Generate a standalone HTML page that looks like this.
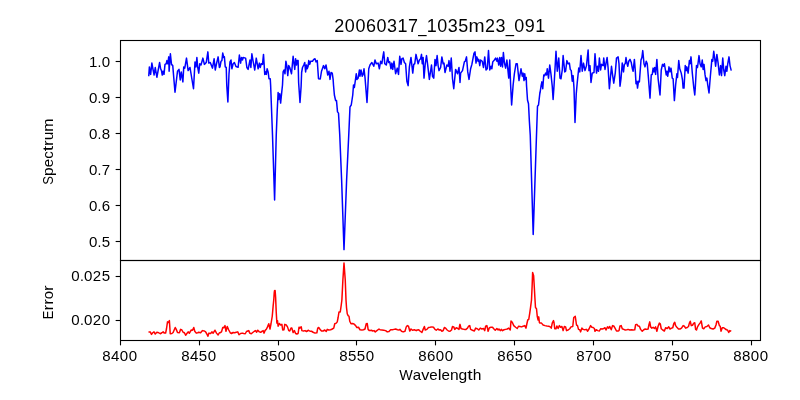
<!DOCTYPE html>
<html><head><meta charset="utf-8"><title>20060317_1035m23_091</title>
<style>
html,body{margin:0;padding:0;background:#fff;}
body{width:800px;height:400px;overflow:hidden;}
svg{display:block;}
text{font-family:"Liberation Sans",sans-serif;fill:#000;}
</style></head><body>
<svg width="800" height="400" viewBox="0 0 800 400">
<rect x="0" y="0" width="800" height="400" fill="#ffffff"/>
<defs><clipPath id="ct"><rect x="120" y="40" width="640" height="220"/></clipPath><clipPath id="cb"><rect x="120" y="260" width="640" height="80"/></clipPath></defs>
<path clip-path="url(#ct)" d="M148.75 76.25 L149.38 66.88 L150.62 74.38 L151.88 63.12 L153.12 70.00 L154.12 75.00 L155.25 67.50 L156.88 77.25 L159.62 62.50 L160.62 68.75 L161.50 70.62 L162.25 75.00 L163.12 71.25 L164.00 74.38 L165.00 64.38 L166.25 63.75 L166.88 60.62 L167.75 63.75 L168.75 56.88 L169.12 71.25 L170.38 53.75 L171.50 64.38 L172.75 65.62 L173.75 77.50 L175.00 92.25 L177.50 71.25 L179.00 69.38 L180.25 80.00 L181.25 71.88 L182.88 81.88 L183.75 66.88 L184.75 68.12 L186.50 58.12 L188.12 70.62 L190.00 67.50 L193.50 88.75 L195.00 61.88 L196.00 66.88 L196.88 57.50 L197.75 67.50 L198.75 73.12 L199.75 63.75 L201.00 65.00 L202.88 58.12 L204.38 64.38 L206.25 62.50 L207.88 51.88 L208.75 63.12 L210.25 62.50 L212.50 68.12 L214.12 58.75 L215.25 70.00 L216.50 63.75 L218.12 56.88 L219.38 67.50 L220.00 66.88 L221.00 61.25 L221.88 60.62 L222.75 53.12 L223.75 57.50 L224.38 56.88 L225.25 66.88 L226.25 67.50 L226.75 85.00 L227.88 101.88 L229.00 73.75 L230.00 61.88 L231.00 60.00 L231.88 68.75 L233.12 63.75 L234.38 62.50 L236.00 66.50 L238.12 67.25 L239.38 55.00 L240.62 63.12 L241.50 57.50 L242.50 60.00 L243.12 57.50 L245.62 58.12 L246.88 67.50 L248.12 69.38 L248.75 66.25 L250.00 60.00 L250.88 67.50 L251.88 53.75 L253.12 61.25 L254.75 70.00 L256.25 58.12 L258.12 68.75 L259.38 63.12 L260.25 67.50 L261.25 63.75 L262.50 64.38 L263.50 54.38 L264.75 74.38 L265.62 71.88 L266.25 74.38 L267.12 68.75 L268.12 71.88 L269.00 78.75 L270.25 78.75 L270.62 85.00 L272.50 135.00 L274.60 200.00 L276.25 135.00 L277.25 110.00 L278.12 92.50 L278.75 99.38 L279.75 93.75 L280.62 103.12 L281.50 94.38 L282.50 85.00 L283.12 71.88 L284.00 70.00 L285.00 73.75 L285.88 61.25 L286.88 66.25 L287.75 75.62 L288.75 65.62 L289.75 67.50 L291.50 73.75 L293.12 56.25 L294.75 69.38 L295.62 58.75 L296.50 65.00 L297.25 60.62 L298.12 60.62 L298.62 82.50 L300.00 102.50 L300.00 102.50 L301.12 86.25 L301.62 72.50 L302.50 67.50 L303.75 65.00 L304.75 62.50 L305.62 71.88 L306.50 65.00 L307.25 68.75 L308.12 66.25 L308.75 60.62 L309.75 64.38 L310.62 61.25 L312.50 61.25 L313.75 59.38 L315.00 58.75 L316.00 61.88 L317.25 60.62 L318.50 78.75 L320.25 79.00 L321.50 71.25 L323.50 65.62 L324.75 68.75 L326.00 65.00 L327.75 75.00 L329.00 71.25 L330.00 79.38 L331.00 72.50 L332.25 73.12 L333.12 79.38 L333.50 85.00 L334.38 95.00 L335.62 100.62 L336.50 100.62 L337.50 111.88 L338.50 113.12 L339.75 135.00 L341.62 180.00 L344.00 249.62 L346.62 180.00 L348.75 135.00 L350.00 106.88 L351.25 105.00 L352.75 95.00 L353.50 85.00 L354.38 87.50 L356.25 73.75 L356.88 79.38 L358.12 78.12 L359.38 70.00 L360.00 76.25 L361.00 70.00 L362.25 76.25 L363.12 74.38 L364.00 68.75 L365.00 77.50 L366.00 90.00 L367.00 102.50 L367.88 86.25 L368.75 68.75 L370.00 65.00 L371.88 62.50 L373.75 66.25 L375.00 60.00 L376.25 63.75 L378.12 63.12 L379.38 68.75 L380.62 61.25 L381.88 63.75 L382.75 57.50 L383.75 51.88 L384.75 63.75 L386.25 65.00 L387.75 57.50 L388.75 62.50 L389.75 61.88 L391.00 68.75 L391.88 63.12 L392.75 69.38 L394.00 61.25 L395.62 73.75 L397.25 68.12 L398.50 74.38 L399.75 56.25 L401.00 64.38 L401.88 58.75 L403.12 58.12 L404.38 62.50 L405.62 63.75 L406.88 81.25 L408.12 85.62 L409.38 66.88 L411.00 57.50 L412.75 73.12 L413.75 64.38 L414.75 63.75 L416.00 54.38 L418.12 63.75 L419.38 60.00 L420.62 58.75 L421.50 54.38 L422.25 63.75 L423.12 57.50 L424.00 78.12 L425.25 63.75 L426.50 55.62 L427.75 65.62 L429.38 79.38 L431.50 65.00 L432.50 76.25 L433.75 78.12 L435.00 59.38 L436.00 65.62 L437.12 55.62 L438.12 65.62 L439.00 70.62 L440.62 67.50 L441.88 56.88 L443.12 63.75 L444.00 63.12 L445.00 72.50 L446.88 65.00 L448.12 66.25 L449.00 60.62 L450.00 71.25 L451.25 58.12 L452.50 78.75 L453.75 88.75 L455.62 69.38 L457.50 73.75 L459.00 67.50 L460.00 81.88 L460.00 82.50 L460.62 73.12 L462.50 70.62 L464.38 61.88 L465.25 61.25 L466.50 56.88 L467.75 71.88 L469.00 79.38 L470.62 68.75 L471.88 64.38 L474.00 53.12 L475.00 51.88 L476.00 63.12 L476.88 56.88 L478.12 61.25 L478.75 59.38 L479.75 65.62 L480.62 60.00 L482.25 61.25 L483.50 67.50 L484.75 56.88 L486.00 70.00 L487.25 68.75 L488.50 50.62 L489.75 70.00 L491.00 66.25 L491.88 68.75 L492.75 61.88 L494.38 60.00 L495.62 58.12 L496.88 61.25 L497.50 58.12 L498.75 65.00 L499.75 57.50 L500.62 66.25 L501.50 57.50 L502.50 66.88 L503.38 52.50 L504.38 62.50 L505.62 68.12 L506.88 60.00 L508.75 78.12 L509.75 60.00 L510.62 85.00 L511.62 105.00 L513.12 85.00 L514.38 73.75 L516.00 63.75 L517.25 63.75 L519.00 80.62 L521.00 68.75 L522.25 76.25 L523.12 73.12 L524.00 80.62 L524.75 73.75 L525.38 79.38 L526.25 77.50 L526.50 85.00 L527.50 100.00 L528.50 103.75 L529.38 121.25 L530.25 135.00 L533.20 234.50 L536.50 135.00 L537.50 106.25 L538.50 105.00 L540.00 91.88 L540.00 93.12 L541.00 86.25 L541.88 81.88 L542.75 88.75 L543.75 75.00 L544.75 75.62 L545.62 73.12 L546.50 75.00 L547.25 68.75 L548.50 78.12 L549.75 65.00 L551.00 74.38 L552.25 86.25 L553.12 99.38 L554.00 86.25 L556.00 51.25 L557.25 71.25 L558.75 58.12 L560.00 78.12 L561.00 78.75 L562.25 70.00 L563.12 55.62 L564.75 71.88 L565.62 71.25 L566.88 60.62 L568.12 63.75 L569.38 63.12 L570.25 69.38 L571.25 70.62 L572.25 81.25 L573.12 75.62 L574.00 88.12 L575.00 122.50 L576.25 93.75 L577.25 82.50 L578.75 68.12 L579.75 71.88 L581.00 55.62 L582.25 71.25 L583.50 63.12 L585.00 70.62 L586.50 65.62 L588.12 50.00 L589.00 70.62 L590.00 65.62 L591.00 82.50 L592.25 73.12 L594.00 72.50 L595.00 53.75 L596.50 73.12 L597.50 66.25 L598.50 71.25 L599.38 58.12 L600.62 70.00 L601.50 64.38 L603.12 65.62 L603.75 58.12 L605.00 69.38 L606.25 61.88 L607.12 57.50 L608.12 68.12 L609.38 88.75 L611.50 66.25 L612.50 74.38 L613.75 83.12 L615.25 73.12 L616.50 58.12 L618.12 56.88 L619.00 63.75 L620.00 86.25 L621.00 78.75 L622.25 63.12 L623.50 71.88 L624.38 64.38 L625.25 63.75 L626.00 57.50 L626.88 63.12 L627.75 66.25 L628.75 61.25 L630.00 59.38 L631.25 62.50 L632.50 69.38 L633.12 71.25 L634.38 59.38 L635.25 70.00 L636.00 83.75 L636.88 81.25 L637.50 88.12 L638.50 81.25 L639.38 81.88 L641.00 60.00 L641.88 57.50 L642.75 50.62 L644.00 63.75 L645.00 66.88 L646.25 61.25 L647.25 63.75 L648.50 78.75 L650.00 98.12 L651.25 75.00 L652.25 74.38 L653.12 68.12 L654.00 71.88 L654.75 67.50 L655.62 74.38 L656.88 59.38 L658.12 78.75 L660.00 95.00 L661.25 70.00 L662.50 64.38 L663.50 66.25 L664.38 63.75 L666.25 75.00 L666.88 71.25 L667.75 76.25 L669.00 66.88 L670.00 71.88 L671.00 68.12 L672.25 78.12 L673.12 78.75 L674.38 100.62 L675.62 85.00 L676.88 73.75 L677.50 77.50 L678.75 60.62 L679.75 68.75 L681.25 73.12 L682.50 80.00 L683.12 88.12 L684.00 88.12 L685.25 65.62 L686.25 70.62 L686.88 66.88 L688.12 73.12 L689.38 60.62 L690.00 63.75 L691.00 56.88 L692.25 72.50 L693.75 87.50 L694.75 95.00 L695.25 88.12 L696.50 65.62 L697.50 67.50 L699.00 55.62 L700.00 63.75 L701.25 66.88 L702.25 60.00 L703.12 69.38 L704.00 64.38 L705.00 74.38 L706.00 80.62 L706.88 78.12 L707.75 85.00 L709.00 93.00 L710.25 77.50 L711.88 59.38 L712.75 61.25 L713.75 51.25 L714.75 58.75 L715.62 66.25 L716.88 54.38 L718.12 63.12 L719.38 75.00 L720.62 65.62 L721.50 75.62 L722.75 58.12 L723.75 70.00 L724.75 75.62 L726.00 66.25 L726.88 71.25 L727.75 63.75 L729.00 56.88 L730.00 65.62 L731.25 70.62" fill="none" stroke="#0000ff" stroke-width="1.50" stroke-linejoin="round" stroke-linecap="butt"/>
<path clip-path="url(#cb)" d="M148.50 331.88 L150.25 331.88 L151.50 334.38 L152.75 332.75 L154.00 331.88 L155.25 334.00 L156.88 332.25 L158.75 332.75 L160.25 333.75 L161.88 332.75 L163.12 331.88 L164.38 333.12 L165.62 333.12 L166.50 328.75 L167.50 321.88 L168.50 322.50 L169.38 320.62 L170.25 333.75 L171.88 333.50 L173.12 332.50 L175.25 327.50 L176.25 329.38 L177.50 332.50 L179.38 332.75 L180.62 329.38 L181.88 330.00 L183.12 332.25 L184.38 332.75 L185.62 335.25 L186.88 333.50 L188.12 331.88 L189.38 333.12 L191.25 330.00 L192.50 330.25 L193.75 327.50 L194.75 331.25 L196.25 333.12 L197.75 332.75 L198.75 332.25 L200.62 332.75 L202.50 330.62 L204.38 331.00 L205.62 331.88 L206.88 334.00 L207.88 336.25 L209.00 333.12 L210.62 333.50 L211.88 331.88 L213.12 333.12 L215.00 330.25 L216.50 333.12 L218.12 335.00 L219.38 332.75 L220.00 332.75 L221.50 331.88 L222.75 327.50 L223.75 327.75 L225.00 325.62 L226.00 331.25 L227.25 326.50 L228.75 330.00 L230.25 332.75 L231.50 333.50 L233.12 332.50 L234.75 332.75 L236.25 332.25 L237.75 331.88 L239.00 334.75 L240.62 333.50 L242.25 333.12 L243.75 333.50 L245.25 333.75 L246.50 331.50 L247.75 331.00 L248.75 330.62 L249.75 333.12 L251.25 333.75 L252.75 332.50 L254.38 331.25 L255.62 330.62 L256.50 332.25 L257.75 330.25 L259.38 331.88 L260.62 332.25 L262.25 331.25 L263.12 330.62 L264.00 333.12 L265.00 330.62 L266.50 329.00 L267.50 326.88 L268.75 323.75 L270.00 329.00 L271.00 323.75 L272.25 316.25 L273.12 306.25 L273.75 300.00 L274.25 292.50 L274.50 290.75 L275.12 290.50 L275.62 297.50 L276.25 312.50 L276.88 323.12 L277.50 320.62 L278.12 326.25 L279.38 323.50 L280.62 325.00 L281.88 324.38 L282.75 330.00 L284.00 329.75 L284.75 324.38 L286.25 325.00 L287.50 326.88 L288.75 330.62 L289.75 331.00 L291.00 328.12 L291.88 328.12 L293.12 332.50 L294.38 330.62 L295.62 333.50 L296.88 334.00 L298.12 333.50 L299.00 327.25 L300.00 328.12 L300.00 327.50 L301.25 326.88 L301.88 330.62 L303.50 331.00 L305.00 330.62 L306.50 331.50 L308.50 330.25 L310.00 331.25 L311.50 331.25 L313.12 332.25 L315.00 333.12 L316.88 332.75 L317.75 328.12 L318.75 327.50 L320.00 329.38 L321.50 331.00 L323.12 331.00 L324.75 330.00 L326.25 331.50 L327.25 329.38 L328.75 330.00 L330.62 329.75 L332.25 329.00 L333.75 328.12 L334.75 323.75 L336.25 323.12 L337.25 321.88 L338.12 317.50 L339.00 311.88 L340.25 311.88 L341.25 305.00 L341.88 300.00 L342.88 280.00 L344.00 263.12 L345.25 280.00 L346.00 300.00 L346.50 307.50 L347.25 313.75 L348.12 315.62 L349.00 316.25 L349.75 321.25 L351.00 323.75 L352.50 323.50 L354.00 324.00 L355.62 325.62 L356.88 327.50 L358.50 327.25 L360.00 329.75 L361.88 330.00 L363.50 329.75 L365.00 329.00 L366.25 323.75 L367.25 323.50 L368.12 329.38 L369.38 330.62 L371.25 330.25 L372.75 331.00 L374.00 330.62 L375.25 331.88 L376.88 330.62 L379.00 329.00 L380.00 329.75 L381.88 330.00 L383.75 330.25 L385.62 330.62 L387.25 331.88 L389.00 331.50 L390.62 329.75 L392.50 329.75 L394.00 329.38 L395.62 329.00 L397.50 329.75 L399.00 330.00 L400.00 329.38 L401.50 331.25 L403.12 331.88 L405.00 331.25 L406.25 326.88 L407.25 325.62 L408.50 326.25 L409.75 331.00 L411.00 329.00 L412.50 330.25 L414.38 329.75 L416.25 330.62 L417.25 330.00 L418.75 329.75 L420.25 331.25 L421.88 332.50 L423.12 329.38 L424.38 326.50 L425.25 330.00 L426.88 329.38 L428.50 327.50 L430.00 327.25 L431.88 326.88 L433.50 327.25 L435.00 329.38 L436.25 330.25 L437.75 329.00 L439.38 330.00 L440.62 329.75 L441.88 331.25 L443.12 330.62 L444.38 327.50 L445.62 328.12 L446.88 329.75 L448.50 331.00 L450.00 331.25 L451.50 330.00 L452.50 326.50 L453.75 326.88 L454.75 329.38 L456.25 327.75 L457.75 328.50 L459.00 329.38 L459.75 325.00 L460.00 324.38 L461.00 328.50 L462.50 329.00 L464.38 329.38 L466.00 329.38 L467.50 328.12 L468.50 326.25 L469.75 325.62 L470.62 329.38 L472.50 330.25 L474.38 331.00 L475.62 328.12 L477.25 328.75 L478.75 330.00 L480.25 328.12 L481.88 329.00 L483.50 328.50 L484.75 330.62 L485.62 326.25 L486.88 325.62 L488.12 331.25 L489.38 327.75 L491.00 327.25 L492.50 327.25 L493.75 328.75 L495.25 330.25 L496.88 328.50 L498.12 330.00 L499.00 329.00 L500.25 330.62 L501.25 329.38 L502.50 330.62 L504.00 329.75 L505.62 329.38 L507.25 329.00 L508.75 328.12 L510.25 330.00 L511.00 321.00 L512.25 322.25 L513.75 325.62 L515.62 327.25 L517.25 328.50 L518.50 326.25 L520.00 326.50 L521.50 326.88 L523.12 326.25 L524.75 325.62 L526.00 328.12 L526.88 323.75 L527.75 320.00 L528.75 319.38 L529.75 313.12 L530.62 306.88 L531.50 300.00 L532.12 286.25 L532.62 272.50 L533.62 275.62 L534.25 286.25 L534.88 297.50 L535.50 307.50 L536.50 308.75 L537.25 316.25 L538.12 320.00 L538.75 316.88 L539.38 322.50 L540.00 323.12 L541.50 323.12 L543.12 325.00 L545.00 325.62 L546.88 326.00 L548.75 326.25 L550.25 326.88 L551.25 328.12 L552.25 323.12 L553.50 320.62 L554.00 322.50 L554.75 328.75 L556.00 328.75 L556.88 326.00 L558.12 328.50 L559.38 325.62 L560.62 327.25 L561.88 326.50 L563.12 330.62 L564.38 326.50 L565.62 326.88 L566.50 330.62 L568.12 330.00 L569.75 328.75 L571.00 326.88 L572.75 326.50 L573.75 317.50 L575.25 316.25 L576.50 325.00 L577.50 325.62 L578.50 329.38 L579.75 329.75 L580.62 331.88 L581.88 328.12 L583.12 329.38 L584.75 329.75 L586.50 329.38 L587.50 331.25 L589.00 329.00 L590.62 325.62 L591.88 327.25 L593.12 327.50 L594.38 328.50 L595.00 331.25 L596.25 329.75 L597.75 330.62 L599.38 331.00 L600.62 328.75 L602.25 329.00 L603.75 328.50 L605.00 327.75 L606.00 330.00 L607.50 326.88 L608.75 328.12 L609.75 326.50 L611.25 329.75 L612.50 325.62 L613.75 326.00 L615.00 328.12 L616.50 331.00 L618.12 331.00 L619.00 330.62 L620.00 326.00 L621.25 325.62 L622.25 328.75 L623.75 329.38 L625.25 330.00 L626.88 329.75 L628.12 329.38 L629.75 330.00 L631.50 329.75 L633.12 330.00 L634.75 329.75 L635.62 324.75 L636.88 324.38 L638.12 326.00 L639.38 326.25 L640.62 329.38 L642.25 331.25 L643.75 329.75 L645.25 329.00 L646.88 329.38 L648.12 329.00 L649.00 324.38 L649.75 321.88 L650.62 326.88 L651.88 328.12 L653.12 327.25 L654.38 328.50 L655.62 326.88 L656.88 331.25 L658.12 326.25 L659.38 323.12 L660.25 323.75 L661.25 328.75 L662.75 330.00 L664.38 331.00 L665.62 327.75 L667.25 328.50 L668.75 326.88 L670.00 329.00 L671.50 328.12 L672.75 327.75 L673.75 323.75 L674.75 322.25 L675.62 325.62 L676.88 327.25 L678.50 329.00 L680.00 329.00 L681.50 328.12 L683.12 325.62 L684.38 326.25 L685.62 328.12 L687.25 327.50 L688.50 326.50 L689.38 323.12 L690.25 321.25 L691.25 325.62 L692.50 325.25 L693.75 323.12 L694.75 322.75 L695.62 329.38 L696.50 330.00 L697.50 326.88 L699.00 324.38 L700.00 323.12 L701.25 321.00 L702.50 328.12 L703.75 328.75 L705.25 326.88 L706.88 326.50 L708.50 325.00 L709.75 327.75 L711.25 328.50 L713.12 329.00 L714.75 328.12 L716.00 325.00 L716.88 321.25 L718.12 321.25 L719.38 325.62 L720.25 326.25 L721.00 331.25 L722.25 327.75 L723.75 327.75 L725.25 329.00 L726.50 329.75 L727.50 330.00 L728.75 332.50 L729.75 330.62 L731.25 331.25" fill="none" stroke="#ff0000" stroke-width="1.50" stroke-linejoin="round" stroke-linecap="butt"/>
<g stroke="#000" stroke-width="1.11" fill="none" stroke-linecap="square">
<rect x="120.50" y="40.50" width="640.00" height="220.00"/>
<rect x="120.50" y="260.50" width="640.00" height="80.00"/>
</g>
<g stroke="#000" stroke-width="1.11" stroke-linecap="butt">
<line x1="115.64" y1="61.50" x2="120.50" y2="61.50"/>
<line x1="115.64" y1="97.50" x2="120.50" y2="97.50"/>
<line x1="115.64" y1="133.50" x2="120.50" y2="133.50"/>
<line x1="115.64" y1="169.50" x2="120.50" y2="169.50"/>
<line x1="115.64" y1="205.50" x2="120.50" y2="205.50"/>
<line x1="115.64" y1="241.50" x2="120.50" y2="241.50"/>
<line x1="115.64" y1="276.50" x2="120.50" y2="276.50"/>
<line x1="115.64" y1="320.50" x2="120.50" y2="320.50"/>
<line x1="120.50" y1="340.50" x2="120.50" y2="345.36"/>
<line x1="199.50" y1="340.50" x2="199.50" y2="345.36"/>
<line x1="278.50" y1="340.50" x2="278.50" y2="345.36"/>
<line x1="356.50" y1="340.50" x2="356.50" y2="345.36"/>
<line x1="435.50" y1="340.50" x2="435.50" y2="345.36"/>
<line x1="514.50" y1="340.50" x2="514.50" y2="345.36"/>
<line x1="593.50" y1="340.50" x2="593.50" y2="345.36"/>
<line x1="672.50" y1="340.50" x2="672.50" y2="345.36"/>
<line x1="751.50" y1="340.50" x2="751.50" y2="345.36"/>
</g>
<defs><filter id="ga" filterUnits="userSpaceOnUse" x="0" y="0" width="800" height="400"><feOffset dx="0" dy="0"/></filter></defs>
<g filter="url(#ga)">
<text x="88.94" y="66.80" font-size="14.60" textLength="8.39" lengthAdjust="spacingAndGlyphs">1</text><text x="97.56" y="66.80" font-size="14.60" textLength="3.89" lengthAdjust="spacingAndGlyphs">.</text><text x="101.67" y="66.80" font-size="14.60" textLength="8.39" lengthAdjust="spacingAndGlyphs">0</text>
<text x="88.94" y="102.80" font-size="14.60" textLength="8.39" lengthAdjust="spacingAndGlyphs">0</text><text x="97.56" y="102.80" font-size="14.60" textLength="3.89" lengthAdjust="spacingAndGlyphs">.</text><text x="101.67" y="102.80" font-size="14.60" textLength="8.39" lengthAdjust="spacingAndGlyphs">9</text>
<text x="88.94" y="138.80" font-size="14.60" textLength="8.39" lengthAdjust="spacingAndGlyphs">0</text><text x="97.56" y="138.80" font-size="14.60" textLength="3.89" lengthAdjust="spacingAndGlyphs">.</text><text x="101.67" y="138.80" font-size="14.60" textLength="8.39" lengthAdjust="spacingAndGlyphs">8</text>
<text x="88.94" y="174.80" font-size="14.60" textLength="8.39" lengthAdjust="spacingAndGlyphs">0</text><text x="97.56" y="174.80" font-size="14.60" textLength="3.89" lengthAdjust="spacingAndGlyphs">.</text><text x="101.67" y="174.80" font-size="14.60" textLength="8.39" lengthAdjust="spacingAndGlyphs">7</text>
<text x="88.94" y="210.80" font-size="14.60" textLength="8.39" lengthAdjust="spacingAndGlyphs">0</text><text x="97.56" y="210.80" font-size="14.60" textLength="3.89" lengthAdjust="spacingAndGlyphs">.</text><text x="101.67" y="210.80" font-size="14.60" textLength="8.39" lengthAdjust="spacingAndGlyphs">6</text>
<text x="88.94" y="246.80" font-size="14.60" textLength="8.39" lengthAdjust="spacingAndGlyphs">0</text><text x="97.56" y="246.80" font-size="14.60" textLength="3.89" lengthAdjust="spacingAndGlyphs">.</text><text x="101.67" y="246.80" font-size="14.60" textLength="8.39" lengthAdjust="spacingAndGlyphs">5</text>
<text x="71.28" y="281.10" font-size="14.60" textLength="8.39" lengthAdjust="spacingAndGlyphs">0</text><text x="79.89" y="281.10" font-size="14.60" textLength="3.89" lengthAdjust="spacingAndGlyphs">.</text><text x="84.00" y="281.10" font-size="14.60" textLength="8.39" lengthAdjust="spacingAndGlyphs">0</text><text x="92.83" y="281.10" font-size="14.60" textLength="8.39" lengthAdjust="spacingAndGlyphs">2</text><text x="101.67" y="281.10" font-size="14.60" textLength="8.39" lengthAdjust="spacingAndGlyphs">5</text>
<text x="71.28" y="325.10" font-size="14.60" textLength="8.39" lengthAdjust="spacingAndGlyphs">0</text><text x="79.89" y="325.10" font-size="14.60" textLength="3.89" lengthAdjust="spacingAndGlyphs">.</text><text x="84.00" y="325.10" font-size="14.60" textLength="8.39" lengthAdjust="spacingAndGlyphs">0</text><text x="92.83" y="325.10" font-size="14.60" textLength="8.39" lengthAdjust="spacingAndGlyphs">2</text><text x="101.67" y="325.10" font-size="14.60" textLength="8.39" lengthAdjust="spacingAndGlyphs">0</text>
<text x="102.20" y="361.20" font-size="14.60" textLength="8.39" lengthAdjust="spacingAndGlyphs">8</text><text x="111.04" y="361.20" font-size="14.60" textLength="8.39" lengthAdjust="spacingAndGlyphs">4</text><text x="119.87" y="361.20" font-size="14.60" textLength="8.39" lengthAdjust="spacingAndGlyphs">0</text><text x="128.70" y="361.20" font-size="14.60" textLength="8.39" lengthAdjust="spacingAndGlyphs">0</text>
<text x="181.20" y="361.20" font-size="14.60" textLength="8.39" lengthAdjust="spacingAndGlyphs">8</text><text x="190.04" y="361.20" font-size="14.60" textLength="8.39" lengthAdjust="spacingAndGlyphs">4</text><text x="198.87" y="361.20" font-size="14.60" textLength="8.39" lengthAdjust="spacingAndGlyphs">5</text><text x="207.70" y="361.20" font-size="14.60" textLength="8.39" lengthAdjust="spacingAndGlyphs">0</text>
<text x="260.20" y="361.20" font-size="14.60" textLength="8.39" lengthAdjust="spacingAndGlyphs">8</text><text x="269.04" y="361.20" font-size="14.60" textLength="8.39" lengthAdjust="spacingAndGlyphs">5</text><text x="277.87" y="361.20" font-size="14.60" textLength="8.39" lengthAdjust="spacingAndGlyphs">0</text><text x="286.70" y="361.20" font-size="14.60" textLength="8.39" lengthAdjust="spacingAndGlyphs">0</text>
<text x="339.20" y="361.20" font-size="14.60" textLength="8.39" lengthAdjust="spacingAndGlyphs">8</text><text x="348.04" y="361.20" font-size="14.60" textLength="8.39" lengthAdjust="spacingAndGlyphs">5</text><text x="356.87" y="361.20" font-size="14.60" textLength="8.39" lengthAdjust="spacingAndGlyphs">5</text><text x="365.70" y="361.20" font-size="14.60" textLength="8.39" lengthAdjust="spacingAndGlyphs">0</text>
<text x="418.20" y="361.20" font-size="14.60" textLength="8.39" lengthAdjust="spacingAndGlyphs">8</text><text x="427.04" y="361.20" font-size="14.60" textLength="8.39" lengthAdjust="spacingAndGlyphs">6</text><text x="435.87" y="361.20" font-size="14.60" textLength="8.39" lengthAdjust="spacingAndGlyphs">0</text><text x="444.70" y="361.20" font-size="14.60" textLength="8.39" lengthAdjust="spacingAndGlyphs">0</text>
<text x="497.20" y="361.20" font-size="14.60" textLength="8.39" lengthAdjust="spacingAndGlyphs">8</text><text x="506.04" y="361.20" font-size="14.60" textLength="8.39" lengthAdjust="spacingAndGlyphs">6</text><text x="514.87" y="361.20" font-size="14.60" textLength="8.39" lengthAdjust="spacingAndGlyphs">5</text><text x="523.70" y="361.20" font-size="14.60" textLength="8.39" lengthAdjust="spacingAndGlyphs">0</text>
<text x="576.20" y="361.20" font-size="14.60" textLength="8.39" lengthAdjust="spacingAndGlyphs">8</text><text x="585.04" y="361.20" font-size="14.60" textLength="8.39" lengthAdjust="spacingAndGlyphs">7</text><text x="593.87" y="361.20" font-size="14.60" textLength="8.39" lengthAdjust="spacingAndGlyphs">0</text><text x="602.70" y="361.20" font-size="14.60" textLength="8.39" lengthAdjust="spacingAndGlyphs">0</text>
<text x="654.20" y="361.20" font-size="14.60" textLength="8.39" lengthAdjust="spacingAndGlyphs">8</text><text x="663.04" y="361.20" font-size="14.60" textLength="8.39" lengthAdjust="spacingAndGlyphs">7</text><text x="671.87" y="361.20" font-size="14.60" textLength="8.39" lengthAdjust="spacingAndGlyphs">5</text><text x="680.70" y="361.20" font-size="14.60" textLength="8.39" lengthAdjust="spacingAndGlyphs">0</text>
<text x="733.20" y="361.20" font-size="14.60" textLength="8.39" lengthAdjust="spacingAndGlyphs">8</text><text x="742.04" y="361.20" font-size="14.60" textLength="8.39" lengthAdjust="spacingAndGlyphs">8</text><text x="750.87" y="361.20" font-size="14.60" textLength="8.39" lengthAdjust="spacingAndGlyphs">0</text><text x="759.70" y="361.20" font-size="14.60" textLength="8.39" lengthAdjust="spacingAndGlyphs">0</text>
<text x="399.28" y="379.80" font-size="14.60" textLength="13.53" lengthAdjust="spacingAndGlyphs">W</text><text x="412.81" y="379.80" font-size="14.60" textLength="8.39" lengthAdjust="spacingAndGlyphs">a</text><text x="421.19" y="379.80" font-size="14.60" textLength="8.10" lengthAdjust="spacingAndGlyphs">v</text><text x="429.29" y="379.80" font-size="14.60" textLength="8.41" lengthAdjust="spacingAndGlyphs">e</text><text x="437.71" y="379.80" font-size="14.60" textLength="3.80" lengthAdjust="spacingAndGlyphs">l</text><text x="441.51" y="379.80" font-size="14.60" textLength="8.41" lengthAdjust="spacingAndGlyphs">e</text><text x="449.93" y="379.80" font-size="14.60" textLength="8.67" lengthAdjust="spacingAndGlyphs">n</text><text x="458.60" y="379.80" font-size="14.60" textLength="8.69" lengthAdjust="spacingAndGlyphs">g</text><text x="467.29" y="379.80" font-size="14.60" textLength="5.36" lengthAdjust="spacingAndGlyphs">t</text><text x="472.65" y="379.80" font-size="14.60" textLength="8.67" lengthAdjust="spacingAndGlyphs">h</text>
<g transform="translate(53.00 151.50) rotate(-90)"><text x="-33.15" y="0.00" font-size="14.60" textLength="8.69" lengthAdjust="spacingAndGlyphs">S</text><text x="-24.46" y="0.00" font-size="14.60" textLength="8.69" lengthAdjust="spacingAndGlyphs">p</text><text x="-15.77" y="0.00" font-size="14.60" textLength="8.41" lengthAdjust="spacingAndGlyphs">e</text><text x="-7.36" y="0.00" font-size="14.60" textLength="7.52" lengthAdjust="spacingAndGlyphs">c</text><text x="0.16" y="0.00" font-size="14.60" textLength="5.36" lengthAdjust="spacingAndGlyphs">t</text><text x="5.53" y="0.00" font-size="14.60" textLength="5.62" lengthAdjust="spacingAndGlyphs">r</text><text x="11.15" y="0.00" font-size="14.60" textLength="8.67" lengthAdjust="spacingAndGlyphs">u</text><text x="19.82" y="0.00" font-size="14.60" textLength="13.33" lengthAdjust="spacingAndGlyphs">m</text>
</g>
<g transform="translate(53.00 302.20) rotate(-90)"><text x="-16.94" y="0.00" font-size="14.60" textLength="8.65" lengthAdjust="spacingAndGlyphs">E</text><text x="-8.30" y="0.00" font-size="14.60" textLength="5.62" lengthAdjust="spacingAndGlyphs">r</text><text x="-2.67" y="0.00" font-size="14.60" textLength="5.62" lengthAdjust="spacingAndGlyphs">r</text><text x="2.95" y="0.00" font-size="14.60" textLength="8.37" lengthAdjust="spacingAndGlyphs">o</text><text x="11.32" y="0.00" font-size="14.60" textLength="5.62" lengthAdjust="spacingAndGlyphs">r</text>
</g>
<text x="334.34" y="31.80" font-size="18.20" textLength="9.99" lengthAdjust="spacingAndGlyphs">2</text><text x="344.86" y="31.80" font-size="18.20" textLength="9.99" lengthAdjust="spacingAndGlyphs">0</text><text x="355.38" y="31.80" font-size="18.20" textLength="9.99" lengthAdjust="spacingAndGlyphs">0</text><text x="365.90" y="31.80" font-size="18.20" textLength="9.99" lengthAdjust="spacingAndGlyphs">6</text><text x="376.41" y="31.80" font-size="18.20" textLength="9.99" lengthAdjust="spacingAndGlyphs">0</text><text x="386.93" y="31.80" font-size="18.20" textLength="9.99" lengthAdjust="spacingAndGlyphs">3</text><text x="397.45" y="31.80" font-size="18.20" textLength="9.99" lengthAdjust="spacingAndGlyphs">1</text><text x="407.97" y="31.80" font-size="18.20" textLength="9.99" lengthAdjust="spacingAndGlyphs">7</text><text x="418.22" y="31.80" font-size="18.20" textLength="8.27" lengthAdjust="spacingAndGlyphs">_</text><text x="426.75" y="31.80" font-size="18.20" textLength="9.99" lengthAdjust="spacingAndGlyphs">1</text><text x="437.27" y="31.80" font-size="18.20" textLength="9.99" lengthAdjust="spacingAndGlyphs">0</text><text x="447.79" y="31.80" font-size="18.20" textLength="9.99" lengthAdjust="spacingAndGlyphs">3</text><text x="458.30" y="31.80" font-size="18.20" textLength="9.99" lengthAdjust="spacingAndGlyphs">5</text><text x="468.56" y="31.80" font-size="18.20" textLength="16.11" lengthAdjust="spacingAndGlyphs">m</text><text x="484.93" y="31.80" font-size="18.20" textLength="9.99" lengthAdjust="spacingAndGlyphs">2</text><text x="495.44" y="31.80" font-size="18.20" textLength="9.99" lengthAdjust="spacingAndGlyphs">3</text><text x="505.70" y="31.80" font-size="18.20" textLength="8.27" lengthAdjust="spacingAndGlyphs">_</text><text x="514.23" y="31.80" font-size="18.20" textLength="9.99" lengthAdjust="spacingAndGlyphs">0</text><text x="524.75" y="31.80" font-size="18.20" textLength="9.99" lengthAdjust="spacingAndGlyphs">9</text><text x="535.26" y="31.80" font-size="18.20" textLength="9.99" lengthAdjust="spacingAndGlyphs">1</text>
</g>
</svg>
</body></html>
